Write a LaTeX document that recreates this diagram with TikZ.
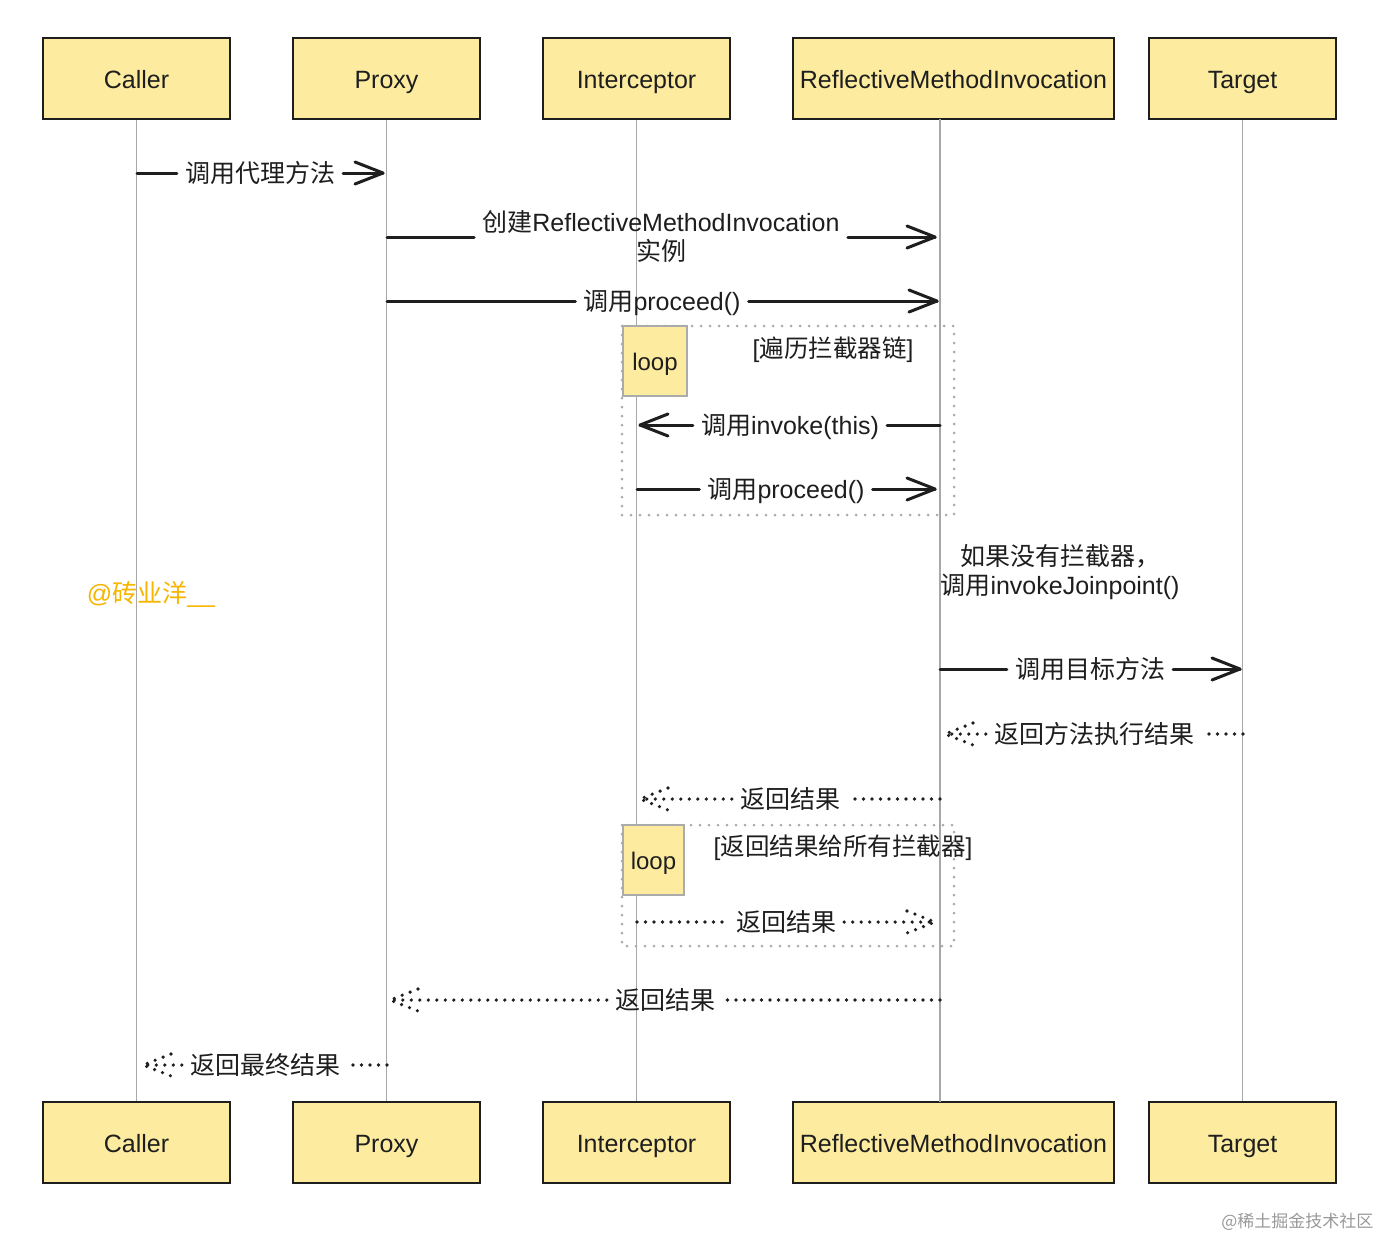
\documentclass[tikz,border=0pt]{standalone}
\usepackage{fontspec}
\setmainfont{Liberation Sans}
\newfontfamily\cjk{Noto Sans CJK SC}
\newcommand{\zh}[1]{{\cjk #1}}
\usetikzlibrary{calc}
\definecolor{boxfill}{HTML}{FDEB9F}
\definecolor{ink}{HTML}{1E1E1E}
\definecolor{life}{HTML}{A8A8A8}
\definecolor{framegray}{HTML}{ABABAB}
\definecolor{wmorange}{HTML}{F7B500}
\tikzset{
 actor/.style={draw=ink, line width=2.5pt, fill=boxfill, minimum width=187pt, minimum height=81pt, inner sep=0pt, font=\fontsize{25}{30}\selectfont, text=ink, text height=22pt, text depth=2pt},
 lifeline/.style={draw=life, line width=1.2pt},
 msgline/.style={draw=ink, line width=3pt, line cap=round, line join=round},
 retline/.style={draw=ink, line width=3.6pt, line cap=round, dash pattern=on 0pt off 8.5pt},
 msgtext/.style={font=\fontsize{25}{29}\selectfont, text=ink, inner xsep=8pt, inner ysep=0pt, align=center},
 msglabel/.style={msgtext, text height=21pt, text depth=2pt},
 frame/.style={draw=framegray, line width=3pt, line cap=round, dash pattern=on 0pt off 9pt},
 looptag/.style={draw=framegray, line width=2.5pt, fill=boxfill, inner sep=0pt, font=\fontsize{24}{28}\selectfont, text=ink, text height=21pt, text depth=2pt},
 guard/.style={font=\fontsize{24.5}{28}\selectfont, text=ink},
}
% forward (left to right) solid message
\newcommand{\fwd}[6][msglabel]{%
 \coordinate (#2s) at (#3,#5); \coordinate (#2e) at (#4,#5);
 \node[#1] (#2) at ($(#2s)!0.5!(#2e)$) {#6};
 \draw[msgline] (#2s) -- (#2s -| #2.west);
 \draw[msgline] (#2s -| #2.east) -- (#2e);
 \draw[msgline] ([shift={(-28,-11)}]#2e) -- (#2e) -- ([shift={(-28,11)}]#2e);
}
% backward (right to left) solid message
\newcommand{\bwd}[5]{%
 \coordinate (#1s) at (#2,#4); \coordinate (#1e) at (#3,#4);
 \node[msglabel] (#1) at ($(#1s)!0.5!(#1e)$) {#5};
 \draw[msgline] (#1s) -- (#1s -| #1.east);
 \draw[msgline] (#1s -| #1.west) -- (#1e);
 \draw[msgline] ([shift={(28,-11)}]#1e) -- (#1e) -- ([shift={(28,11)}]#1e);
}
% forward dotted return
\newcommand{\rfwd}[5]{%
 \coordinate (#1s) at (#2,#4); \coordinate (#1e) at (#3,#4);
 \node[msglabel] (#1) at ($(#1s)!0.5!(#1e)$) {#5};
 \draw[retline] (#1s) -- (#1s -| #1.west);
 \draw[retline] (#1s -| #1.east) -- (#1e);
 \draw[retline] ([shift={(-28,-11)}]#1e) -- (#1e) -- ([shift={(-28,11)}]#1e);
}
% backward dotted return
\newcommand{\rbwd}[5]{%
 \coordinate (#1s) at (#2,#4); \coordinate (#1e) at (#3,#4);
 \node[msglabel] (#1) at ($(#1s)!0.5!(#1e)$) {#5};
 \draw[retline] (#1s) -- (#1s -| #1.east);
 \draw[retline] (#1s -| #1.west) -- (#1e);
 \draw[retline] ([shift={(28,-11)}]#1e) -- (#1e) -- ([shift={(28,11)}]#1e);
}
\begin{document}
\begin{tikzpicture}[x=1pt,y=-1pt]
\fill[white] (0,0) rectangle (1382,1240);
\useasboundingbox (0,0) rectangle (1382,1240);

% actors
\node[actor] (ctop) at (136.5,78.5) {Caller};
\node[actor] (ptop) at (386.5,78.5) {Proxy};
\node[actor] (itop) at (636.5,78.5) {Interceptor};
\node[actor, minimum width=321pt] (rtop) at (953.5,78.5) {ReflectiveMethodInvocation};
\node[actor] (ttop) at (1242.5,78.5) {Target};

\node[actor] (cbot) at (136.5,1142.5) {Caller};
\node[actor] (pbot) at (386.5,1142.5) {Proxy};
\node[actor] (ibot) at (636.5,1142.5) {Interceptor};
\node[actor, minimum width=321pt] (rbot) at (953.5,1142.5) {ReflectiveMethodInvocation};
\node[actor] (tbot) at (1242.5,1142.5) {Target};

% lifelines
\coordinate (rlt) at (940,119);
\coordinate (rlb) at (940,1102);
\draw[lifeline] (ctop.south) -- (cbot.north);
\draw[lifeline] (ptop.south) -- (pbot.north);
\draw[lifeline] (itop.south) -- (ibot.north);
\draw[lifeline] (rlt) -- (rlb);
\draw[lifeline] (ttop.south) -- (tbot.north);

% loop frames
\draw[frame] (622,326) rectangle (954,515);
\draw[frame] (622,825) rectangle (954,946);
\node[looptag, minimum width=64pt, minimum height=70pt] (loop1) at (655,361) {loop};
\node[looptag, minimum width=61pt, minimum height=70pt] (loop2) at (653.5,860) {loop};
\node[guard] (g1) at (833,350) {[\zh{遍历拦截器链}]};
\node[guard] (g2) at (843,848) {[\zh{返回结果给所有拦截器}]};

% messages
\fwd{m1}{137}{383}{173}{\zh{调用代理方法}}
\fwd[msgtext]{m2}{387}{935}{237}{\zh{创建}ReflectiveMethodInvocation\\\zh{实例}}
\fwd{m3}{387}{937}{301}{\zh{调用}proceed()}
\bwd{m4}{940}{640}{425}{\zh{调用}invoke(this)}
\fwd{m5}{637}{935}{489}{\zh{调用}proceed()}
\node[msgtext] (note) at (1060,572) {\zh{如果没有拦截器，}\\\zh{调用}invokeJoinpoint()};
\fwd{m6}{940}{1240}{669}{\zh{调用目标方法}}
\rbwd{m7}{1243}{945}{734}{\zh{返回方法执行结果}}
\rbwd{m8}{940}{640}{799}{\zh{返回结果}}
\rfwd{m9}{637}{935}{922}{\zh{返回结果}}
\rbwd{m10}{940}{390}{1000}{\zh{返回结果}}
\rbwd{m11}{387}{143}{1065}{\zh{返回最终结果}}

% watermarks
\node[text=wmorange, font=\fontsize{25}{29}\selectfont] (wm1) at (151,594) {@\zh{砖业洋}\_\_};
\node[anchor=east, text=black!40, font=\cjk\fontsize{17}{20}\selectfont] (wm2) at (1377,1222) {@稀土掘金技术社区};
\end{tikzpicture}
\end{document}
